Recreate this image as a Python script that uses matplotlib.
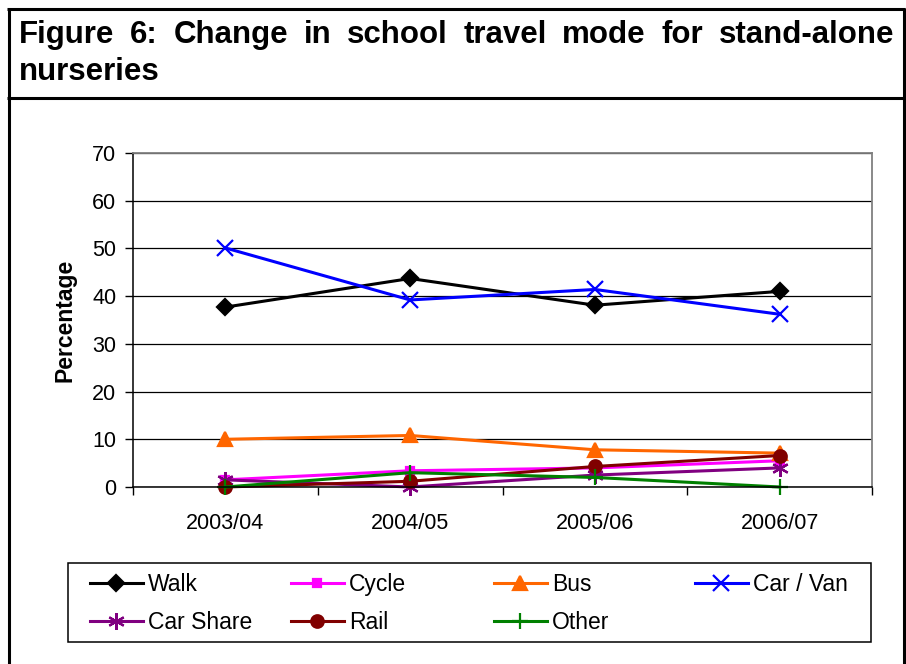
import matplotlib
matplotlib.use("Agg")
import matplotlib.pyplot as plt
from matplotlib.lines import Line2D
from matplotlib.patches import Rectangle

plt.rcParams["font.family"] = ["Liberation Sans", "DejaVu Sans"]

# ── data ───────────────────────────────────────────────────────────────────
YEARS = ["2003/04", "2004/05", "2005/06", "2006/07"]

WALK = [37.7, 43.7, 38.1, 41.0]
CYCLE = [1.5, 3.4, 4.0, 5.5]
BUS = [10.0, 10.8, 7.8, 7.1]
CAR_VAN = [50.1, 39.2, 41.4, 36.2]
CAR_SHARE = [1.5, 0.0, 2.5, 4.0]
RAIL = [0.0, 1.2, 4.3, 6.6]
OTHER = [0.0, 3.0, 2.0, 0.0]

SERIES = [
    ("Walk", WALK, "#000000", "D", 8),
    ("Cycle", CYCLE, "#FF00FF", "s", 6),
    ("Bus", BUS, "#FF6600", "^", 10),
    ("Car / Van", CAR_VAN, "#0000FF", "x", 11),
    ("Car Share", CAR_SHARE, "#800080", (6, 2, 0), 12),
    ("Rail", RAIL, "#800000", "o", 9),
    ("Other", OTHER, "#008000", "+", 12),
]

TITLE_LINE1 = "Figure 6: Change in school travel mode for stand-alone"
TITLE_LINE2 = "nurseries"

W, H = 906, 664
fig = plt.figure(figsize=(W / 100, H / 100), dpi=100)


def fx(px):
    return px / W


def fy(py):
    return 1 - py / H


# ── outer box and title ────────────────────────────────────────────────────
border = dict(transform=fig.transFigure, color="black", lw=2.2, solid_capstyle="butt")
fig.add_artist(Line2D([fx(8.5), fx(8.5)], [fy(8), fy(670)], **border))
fig.add_artist(Line2D([fx(904), fx(904)], [fy(8), fy(670)], **border))
fig.add_artist(Line2D([fx(7.4), fx(905)], [fy(8.5), fy(8.5)], **border))
fig.add_artist(Line2D([fx(7.4), fx(905)], [fy(97.5), fy(97.5)], **border))

# first title line is justified across the box, word by word
title_kw = dict(fontsize=22.5, fontweight="bold", va="baseline", ha="left")
words = TITLE_LINE1.split()
word_texts = [fig.text(0, fy(43), w, **title_kw) for w in words]
renderer = fig.canvas.get_renderer()
widths = [t.get_window_extent(renderer).width for t in word_texts]
x_left, x_right = 19, 894
gap = (x_right - x_left - sum(widths)) / (len(words) - 1)
x = x_left
for t, w in zip(word_texts, widths):
    t.set_x(fx(x))
    x += w + gap
fig.text(fx(x_left), fy(80), TITLE_LINE2, **title_kw)

# ── chart ──────────────────────────────────────────────────────────────────
ax = fig.add_axes([fx(133), fy(487), fx(872) - fx(133), fy(153) - fy(487)])
xpos = list(range(len(YEARS)))
for label, vals, color, marker, ms in SERIES:
    ax.plot(xpos, vals, color=color, lw=2.2, marker=marker, ms=ms,
            mew=1.6, mec=color, mfc=color, label=label, clip_on=False,
            solid_joinstyle="round")

ax.set_xlim(-0.5, len(YEARS) - 0.5)
ax.set_ylim(0, 70)
ax.set_yticks(range(0, 71, 10))
ax.grid(axis="y", color="black", lw=0.9)
ax.set_axisbelow(True)

ax.set_xticks([i - 0.5 for i in range(len(YEARS) + 1)])
ax.set_xticklabels([])
ax.set_xticks(xpos, minor=True)
ax.set_xticklabels(YEARS, minor=True, fontsize=15.5)
ax.tick_params(axis="x", which="major", direction="out", length=6, width=1)
ax.tick_params(axis="x", which="minor", length=0, pad=19)
ax.tick_params(axis="y", direction="out", length=6, width=1, labelsize=15.5, pad=6)

for side in ("top", "right"):
    ax.spines[side].set_color("#808080")
    ax.spines[side].set_linewidth(1.3)
for side in ("left", "bottom"):
    ax.spines[side].set_color("black")
    ax.spines[side].set_linewidth(1.1)

ax.set_ylabel("Percentage", fontsize=16.5, fontweight="bold", labelpad=11)

# ── legend: fixed-width columns inside a plain frame ───────────────────────
fig.add_artist(Rectangle((fx(67.5), fy(641.5)), fx(871) - fx(67.5), fy(563) - fy(641.5),
                         transform=fig.transFigure, fill=False, ec="black", lw=1.1))
col_x = [90, 291, 494, 695]
row_top = [573, 611]
handles = ax.get_lines()
for i, h in enumerate(handles):
    r, c = divmod(i, 4)
    fig.legend([h], [h.get_label()], loc="upper left",
               bbox_to_anchor=(fx(col_x[c]), fy(row_top[r])),
               frameon=False, fontsize=16.5, handlelength=2.3,
               handletextpad=0.22, borderpad=0, borderaxespad=0,
               numpoints=1)

fig.savefig("out.png", dpi=100)
